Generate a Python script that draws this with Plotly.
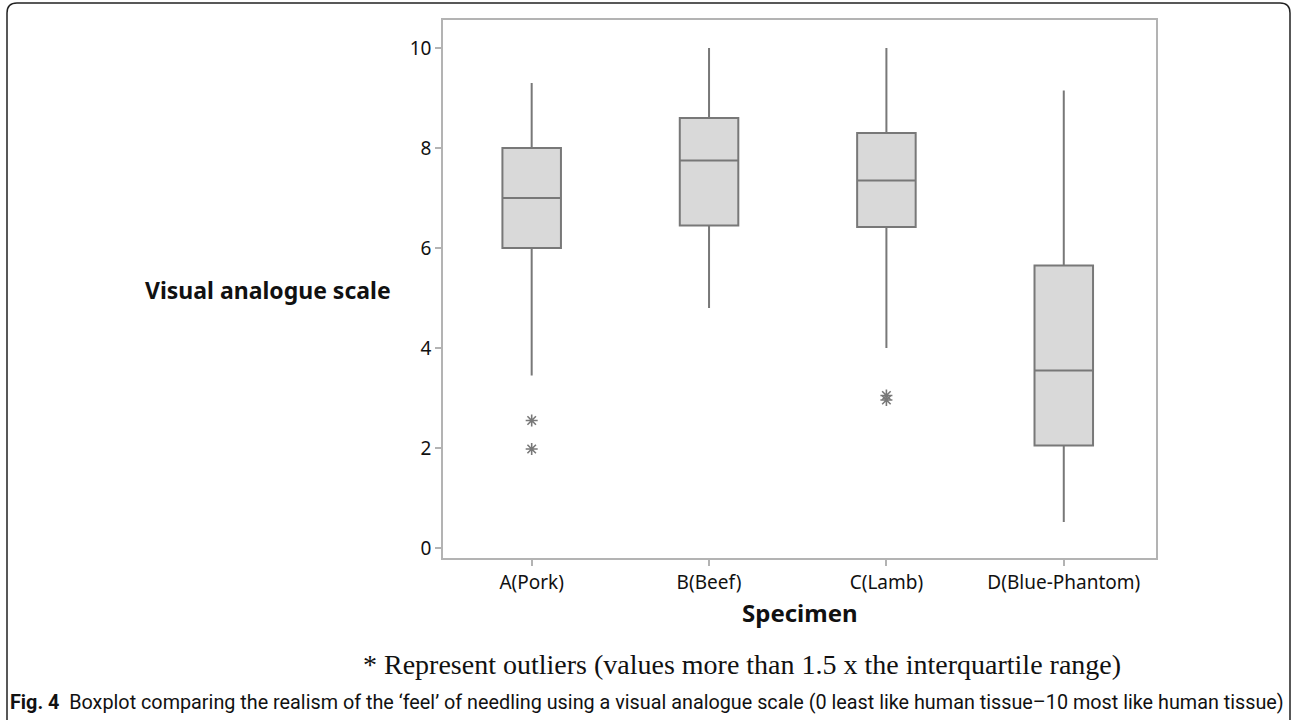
import plotly.graph_objects as go

categories = ["A(Pork)", "B(Beef)", "C(Lamb)", "D(Blue-Phantom)"]
q1 = [6.0, 6.45, 6.42, 2.05]
median = [7.0, 7.75, 7.35, 3.55]
q3 = [8.0, 8.6, 8.3, 5.65]
lower_whisker = [3.45, 4.8, 4.0, 0.52]
upper_whisker = [9.3, 10.0, 10.0, 9.15]
outlier_cat = ["A(Pork)", "A(Pork)", "C(Lamb)", "C(Lamb)"]
outlier_val = [2.55, 1.98, 3.05, 2.96]
y_ticks = [0, 2, 4, 6, 8, 10]

W, H = 1292, 720
L, R, T, B = 443, 136, 20, 162
pw, ph = W - L - R, H - T - B

def px(x):
    return (x - L) / pw

def py(y):
    return (H - B - y) / ph

fig = go.Figure()
fig.add_trace(go.Box(
    x=categories, q1=q1, median=median, q3=q3,
    lowerfence=lower_whisker, upperfence=upper_whisker,
    fillcolor="#d9d9d9", line=dict(color="#787878", width=2),
    whiskerwidth=0, width=0.33, boxpoints=False, hoverinfo="skip",
    showlegend=False,
))
fig.add_trace(go.Scatter(
    x=outlier_cat, y=outlier_val, mode="markers",
    marker=dict(symbol="asterisk-open", size=10, color="#787878",
                line=dict(color="#787878", width=1.6)),
    showlegend=False, hoverinfo="skip",
))

axis_common = dict(showline=True, linecolor="#b3b3b3", linewidth=1.5, mirror=True,
                   ticks="outside", ticklen=6, tickcolor="#b3b3b3", tickwidth=1.5,
                   showgrid=False, zeroline=False,
                   tickfont=dict(family="Noto Sans", size=19, color="#111"))

fig.update_layout(
    width=W, height=H,
    margin=dict(l=L, r=R, t=T, b=B),
    paper_bgcolor="white", plot_bgcolor="white",
    xaxis=dict(**axis_common, range=[-0.5, 3.52]),
    yaxis=dict(**axis_common, range=[-0.2, 10.56], tickvals=y_ticks),
)

annotations = [
    dict(text="<b>Visual analogue scale</b>", x=px(268), y=py(290), xref="paper", yref="paper",
         showarrow=False, font=dict(family="Noto Sans", size=23, color="#111"),
         xanchor="center", yanchor="middle"),
    dict(text="<b>Specimen</b>", x=px(800), y=py(612), xref="paper", yref="paper",
         showarrow=False, font=dict(family="Noto Sans", size=24, color="#111"),
         xanchor="center", yanchor="middle"),
    dict(text="* Represent outliers (values more than 1.5 x the interquartile range)",
         x=px(742), y=py(664), xref="paper", yref="paper", showarrow=False,
         font=dict(family="Liberation Serif", size=28, color="#111"),
         xanchor="center", yanchor="middle"),
    dict(text="<b>Fig. 4</b>  Boxplot comparing the realism of the \u2018feel\u2019 of needling using a visual analogue scale (0 least like human tissue\u201310 most like human tissue)",
         x=px(647), y=py(702), xref="paper", yref="paper", showarrow=False,
         font=dict(family="Roboto", size=19.8, color="#111"),
         xanchor="center", yanchor="middle"),
]
fig.update_layout(annotations=annotations)

# outer frame with rounded top corners
path = (f"M {px(7)},{py(720)} L {px(7)},{py(13)} Q {px(7)},{py(3)} {px(17)},{py(3)} "
        f"L {px(1280)},{py(3)} Q {px(1290)},{py(3)} {px(1290)},{py(13)} L {px(1290)},{py(720)}")
fig.add_shape(type="path", path=path, xref="paper", yref="paper",
              line=dict(color="#222", width=1.5))

fig.write_html("out.html", config={"displayModeBar": False},
               post_script="document.body.style.margin='0';document.body.style.overflow='hidden';")
